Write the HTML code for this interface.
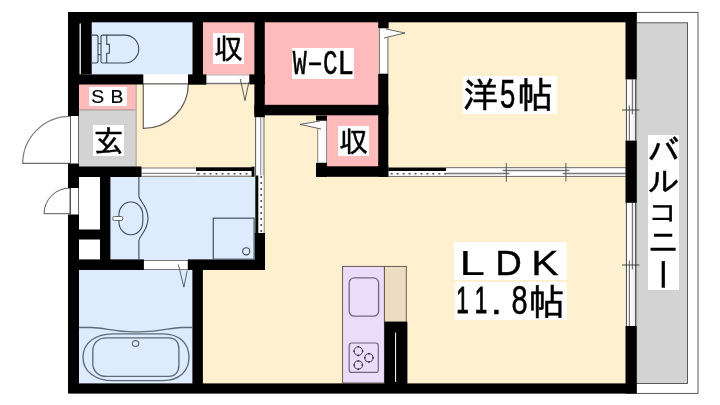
<!DOCTYPE html>
<html lang="ja"><head><meta charset="utf-8"><title>間取り図</title>
<style>
html,body{margin:0;padding:0;background:#fff;}
body{width:720px;height:405px;overflow:hidden;position:relative;font-family:"Liberation Sans","IPAGothic",sans-serif;color:#000;}
svg{position:absolute;left:0;top:0;display:block;}
#plan{position:absolute;left:0;top:0;width:720px;height:405px;will-change:transform;}
.lb{position:absolute;background:#fff;line-height:1;white-space:nowrap;color:#000;}
.fs{font-family:"Liberation Sans","IPAGothic",sans-serif;}
.fm{font-family:"Liberation Mono","IPAGothic",monospace;}
.g{display:inline-block;width:0;vertical-align:top;transform-origin:0 0;}
</style></head><body>
<div id="plan">
<svg width="720" height="405" viewBox="0 0 720 405">
<rect x="79" y="22" width="546.6" height="362" fill="#fff0d0" />
<rect x="91" y="22" width="102" height="53" fill="#ddebfd" />
<rect x="203" y="22" width="52" height="53" fill="#ffbbbc" />
<rect x="265" y="22" width="113.5" height="83.5" fill="#ffbbbc" />
<rect x="327" y="115" width="51.5" height="52" fill="#ffbbbc" />
<rect x="79" y="84" width="56.6" height="25.8" fill="#ffbbbc" />
<rect x="79" y="109.8" width="56.6" height="57.2" fill="#d3d3d3" />
<line x1="136.1" y1="84" x2="136.1" y2="167" stroke="#8a8a8a" stroke-width="0.9"/>
<line x1="79" y1="109.9" x2="135.6" y2="109.9" stroke="#8a7f7f" stroke-width="0.8"/>
<rect x="110" y="177" width="145" height="83" fill="#ddebfd" />
<rect x="79" y="269" width="114" height="115" fill="#ddebfd" />
<rect x="79" y="177" width="21" height="83" fill="#fff" />
<rect x="636.4" y="12.4" width="61.6" height="381.0" fill="#fff" stroke="#4a4a4a" stroke-width="0.9"/>
<rect x="636.6" y="22.8" width="50.9" height="360.7" fill="#d3d3d3" stroke="#4a4a4a" stroke-width="0.9"/>
<rect x="342.6" y="266.4" width="41.8" height="116.6" fill="#ebdcf9" stroke="#5a4e48" stroke-width="0.9"/>
<rect x="384.4" y="266.4" width="21.9" height="55.6" fill="#ecdcc0" stroke="#5a4e48" stroke-width="0.9"/>
<rect x="143.3" y="74.2" width="44.7" height="10.1" fill="#fff" />
<line x1="143.3" y1="83.8" x2="188" y2="83.8" stroke="#777" stroke-width="1"/>
<rect x="206.4" y="74.6" width="42.9" height="9.4" fill="#fff" />
<line x1="206.4" y1="75" x2="249.3" y2="75" stroke="#999" stroke-width="0.8"/>
<line x1="206.4" y1="83.5" x2="249.3" y2="83.5" stroke="#777" stroke-width="1.3"/>
<rect x="379.3" y="28" width="8.6" height="46" fill="#fff" stroke="#666" stroke-width="1"/>
<rect x="317.8" y="120.5" width="8.9" height="42.5" fill="#fff" stroke="#555" stroke-width="0.7"/>
<rect x="143.9" y="260" width="43.9" height="10" fill="#fff" />
<line x1="143.9" y1="260.5" x2="187.8" y2="260.5" stroke="#777" stroke-width="1"/>
<line x1="143.9" y1="269.5" x2="187.8" y2="269.5" stroke="#777" stroke-width="1"/>
<rect x="70" y="116" width="9" height="47.5" fill="#fff" />
<line x1="70.4" y1="116" x2="70.4" y2="163.5" stroke="#333" stroke-width="0.9"/>
<line x1="78.5" y1="116" x2="78.5" y2="163.5" stroke="#555" stroke-width="0.9"/>
<rect x="70" y="188" width="9" height="26.5" fill="#fff" />
<line x1="70.4" y1="188" x2="70.4" y2="214.5" stroke="#333" stroke-width="0.9"/>
<line x1="78.5" y1="188" x2="78.5" y2="214.5" stroke="#555" stroke-width="0.9"/>
<path d="M70,163.3 L22.7,163.3 A47.3,47.3 0 0 1 70,116.4 Z" fill="#fff" stroke="none" stroke-width="0" />
<path d="M22.7,163.3 A47.3,47.3 0 0 1 70,116.4" fill="none" stroke="#808080" stroke-width="1.3" />
<line x1="22.5" y1="163.3" x2="70" y2="163.3" stroke="#333" stroke-width="0.9"/>
<path d="M70,213.7 L44,213.7 A26,26 0 0 1 70,188 Z" fill="#fff" stroke="#444" stroke-width="0.9" />
<path d="M143.3,84 L143.3,128.4 A44.7,44.7 0 0 0 188.3,84 Z" fill="#fff" stroke="#6a635c" stroke-width="1.2" />
<rect x="141.5" y="167.8" width="54.5" height="8.5" fill="#fff" />
<line x1="141.5" y1="168" x2="196" y2="168" stroke="#555" stroke-width="0.8"/>
<line x1="141.5" y1="173.4" x2="196" y2="173.4" stroke="#888" stroke-width="1.2"/>
<line x1="141.5" y1="176.3" x2="196" y2="176.3" stroke="#555" stroke-width="0.8"/>
<rect x="196" y="167.3" width="56" height="9.0" fill="#fff" />
<rect x="196" y="167.3" width="56" height="3.7" fill="#000" />
<line x1="196" y1="176.2" x2="252" y2="176.2" stroke="#333" stroke-width="0.8"/>
<line x1="197.5" y1="173.7" x2="251" y2="173.7" stroke="#555" stroke-width="1.6" stroke-dasharray="2 4"/>
<rect x="251.6" y="166.7" width="2.9" height="10.1" fill="#000" />
<rect x="255.2" y="115.5" width="9.4" height="60.5" fill="#fff" />
<line x1="255.6" y1="115.5" x2="255.6" y2="176" stroke="#444" stroke-width="0.9"/>
<line x1="260.8" y1="115.5" x2="260.8" y2="176" stroke="#8c8c96" stroke-width="1.3"/>
<rect x="261.4" y="115.5" width="2.2" height="60.5" fill="#ececec" />
<line x1="264" y1="115.5" x2="264" y2="176" stroke="#555" stroke-width="0.9"/>
<rect x="255.3" y="175.5" width="9.1" height="57.5" fill="#fff" />
<rect x="255.3" y="175.5" width="3.0" height="57.5" fill="#000" />
<line x1="264.2" y1="175.5" x2="264.2" y2="233" stroke="#555" stroke-width="0.7"/>
<line x1="261.2" y1="176" x2="261.2" y2="232" stroke="#555" stroke-width="1.6" stroke-dasharray="2 4"/>
<rect x="388.3" y="167.5" width="237.2" height="9.1" fill="#fff" />
<rect x="388.3" y="167.5" width="57.7" height="3.5" fill="#000" />
<line x1="390.7" y1="173.7" x2="446.5" y2="173.7" stroke="#555" stroke-width="1.6" stroke-dasharray="2 3.95"/>
<line x1="446" y1="167.7" x2="625.8" y2="167.7" stroke="#444" stroke-width="0.8"/>
<line x1="388.3" y1="176.4" x2="625.8" y2="176.4" stroke="#444" stroke-width="0.8"/>
<line x1="446" y1="173.5" x2="509.4" y2="173.5" stroke="#777" stroke-width="1.3"/>
<line x1="502.8" y1="170.5" x2="569.4" y2="170.5" stroke="#777" stroke-width="1.3"/>
<line x1="562.8" y1="173.5" x2="625.8" y2="173.5" stroke="#777" stroke-width="1.3"/>
<line x1="506.3" y1="163" x2="506.3" y2="181.7" stroke="#333" stroke-width="0.8"/>
<line x1="565.9" y1="163" x2="565.9" y2="181.5" stroke="#333" stroke-width="0.8"/>
<rect x="625.6" y="79.4" width="10.9" height="61.2" fill="#fff" />
<rect x="632.5" y="79.4" width="3.0" height="61.2" fill="#eeeeee" />
<line x1="626.4" y1="79.4" x2="626.4" y2="140.6" stroke="#2a2a2a" stroke-width="0.9"/>
<line x1="635.6" y1="79.4" x2="635.6" y2="140.6" stroke="#333" stroke-width="0.9"/>
<line x1="632.3" y1="79.4" x2="632.3" y2="114.4" stroke="#444" stroke-width="0.9"/>
<line x1="629.4" y1="105.5" x2="629.4" y2="140.6" stroke="#777" stroke-width="1.2"/>
<line x1="622" y1="110" x2="639.4" y2="110" stroke="#333" stroke-width="0.9"/>
<rect x="625.6" y="202.8" width="10.9" height="123.2" fill="#fff" />
<rect x="632.5" y="202.8" width="3.0" height="123.2" fill="#eeeeee" />
<line x1="626.4" y1="202.8" x2="626.4" y2="326" stroke="#2a2a2a" stroke-width="0.9"/>
<line x1="635.6" y1="202.8" x2="635.6" y2="326" stroke="#333" stroke-width="0.9"/>
<line x1="632.3" y1="202.8" x2="632.3" y2="269.4" stroke="#444" stroke-width="0.9"/>
<line x1="629.4" y1="260.5" x2="629.4" y2="326" stroke="#777" stroke-width="1.2"/>
<line x1="622" y1="265" x2="639.4" y2="265" stroke="#333" stroke-width="0.9"/>
<rect x="68.3" y="12" width="568.1" height="10.3" fill="#000" />
<rect x="68.3" y="383.4" width="568.1" height="10.2" fill="#000" />
<rect x="68" y="12" width="23.7" height="62.5" fill="#000" />
<line x1="80.2" y1="23.5" x2="80.2" y2="74" stroke="#fff" stroke-width="1.3"/>
<rect x="68" y="74" width="11" height="42" fill="#000" />
<rect x="68" y="163.5" width="11" height="24.5" fill="#000" />
<rect x="68" y="214.5" width="11" height="178.5" fill="#000" />
<rect x="625.5" y="12" width="10.9" height="67.4" fill="#000" />
<rect x="625.5" y="140.6" width="10.9" height="62.2" fill="#000" />
<rect x="625.5" y="326" width="10.9" height="67.6" fill="#000" />
<rect x="68" y="74.4" width="75.3" height="10.1" fill="#000" />
<rect x="188" y="74.4" width="18.4" height="10.3" fill="#000" />
<rect x="192.5" y="22" width="10.5" height="53" fill="#000" />
<rect x="249.3" y="74.4" width="15.5" height="10.0" fill="#000" />
<rect x="254.4" y="22" width="10.4" height="95.2" fill="#000" />
<rect x="254.4" y="104.8" width="133.9" height="10.5" fill="#000" />
<rect x="378.2" y="22" width="10.4" height="6" fill="#000" />
<rect x="378.2" y="74" width="10.1" height="102.8" fill="#000" />
<rect x="316" y="115.5" width="11" height="5.0" fill="#000" />
<rect x="316" y="163" width="11" height="13.8" fill="#000" />
<rect x="316" y="166.3" width="72.3" height="10.5" fill="#000" />
<rect x="68" y="166.5" width="73.5" height="10.5" fill="#000" />
<rect x="100" y="177" width="10.4" height="83" fill="#000" />
<rect x="79" y="229.5" width="21" height="10.0" fill="#000" />
<rect x="68" y="259.4" width="75.9" height="10.6" fill="#000" />
<rect x="187.8" y="259.4" width="77.2" height="10.6" fill="#000" />
<rect x="254.6" y="233" width="10.4" height="37" fill="#000" />
<rect x="192.4" y="269.5" width="10.5" height="114.5" fill="#000" />
<rect x="384.4" y="321.8" width="23.0" height="62.2" fill="#000" />
<line x1="395.6" y1="332.5" x2="395.6" y2="382" stroke="#fff" stroke-width="1.0"/>
<path d="M91.7,34.3 H96.5 Q98,34.3 98,35.8 V60.7 Q98,62.2 96.5,62.2 H91.7" fill="none" stroke="#3d4955" stroke-width="1.1" transform="translate(0,0.8)"/>
<path d="M98,42.9 H101 M98,54 H101" fill="none" stroke="#3d4955" stroke-width="1.1" transform="translate(0,0.8)"/>
<path d="M102.5,34.3 H124.8 A13.95,13.95 0 0 1 124.8,62.2 H102.5 Q101,62.2 101,60.7 V35.8 Q101,34.3 102.5,34.3 Z" fill="none" stroke="#3d4955" stroke-width="1.1" transform="translate(0,0.8)"/>
<path d="M106.7,34.3 V43.6 H109.4 V52.4 H106.7 V62.2" fill="none" stroke="#3d4955" stroke-width="1.1" transform="translate(0,0.8)"/>
<path d="M138.9,177 V196.3 C139.3,201 148,206 148,218.3 C148,230.6 139.3,236 138.9,240.3 V259.5" fill="none" stroke="#3d4955" stroke-width="1.1" />
<rect x="118.9" y="202" width="23.9" height="32.7" rx="11.5" ry="13" fill="none" stroke="#3d4955" stroke-width="1.1"/>
<rect x="112.8" y="216.5" width="10" height="4" rx="1.6" fill="#fff" stroke="#3d4955" stroke-width="0.8"/>
<rect x="213.3" y="218.2" width="40.8" height="41" fill="none" stroke="#505d69" stroke-width="1.3"/>
<circle cx="246.2" cy="251.3" r="3.6" fill="none" stroke="#3d4955" stroke-width="1.1"/>
<path d="M79,327.5 H91 C104,327.5 114,331.8 134,331.8 H140 C162,331.8 170,327.5 182,327.5 H192.5" fill="none" stroke="#5f6b76" stroke-width="1.35" />
<path d="M113,333.8 H163 C179,333.8 189,343 189,357.2 C189,371.5 179,380.6 163,380.6 H113 C96,380.6 83,372 83,357.2 C83,342.4 96,333.8 113,333.8 Z" fill="none" stroke="#5f6b76" stroke-width="1.35" />
<path d="M106.7,337.8 H169 C175,337.8 178.9,342 178.9,349 V365.5 C178.9,372 175,376.4 169,376.4 H106.7 C98,376.4 92.8,371 92.8,363 V351 C92.8,343 98,337.8 106.7,337.8 Z" fill="none" stroke="#5f6b76" stroke-width="1.35" />
<ellipse cx="135.6" cy="343.6" rx="3.2" ry="2.9" fill="none" stroke="#5f6b76" stroke-width="1.2"/>
<rect x="349.2" y="277.9" width="29.4" height="38.3" rx="5" fill="none" stroke="#75667f" stroke-width="1.3"/>
<rect x="349.2" y="343" width="29.1" height="29.4" rx="2.5" fill="none" stroke="#75667f" stroke-width="1.2"/>
<circle cx="358.3" cy="351.1" r="4.3" fill="none" stroke="#4a3f55" stroke-width="1"/>
<circle cx="358.3" cy="346.8" r="0.9" fill="#3a3045"/>
<circle cx="362.6" cy="351.1" r="0.9" fill="#3a3045"/>
<circle cx="358.3" cy="355.40000000000003" r="0.9" fill="#3a3045"/>
<circle cx="354.0" cy="351.1" r="0.9" fill="#3a3045"/>
<circle cx="368.9" cy="357.8" r="4.1" fill="none" stroke="#4a3f55" stroke-width="1"/>
<circle cx="368.9" cy="353.7" r="0.9" fill="#3a3045"/>
<circle cx="373.0" cy="357.8" r="0.9" fill="#3a3045"/>
<circle cx="368.9" cy="361.90000000000003" r="0.9" fill="#3a3045"/>
<circle cx="364.79999999999995" cy="357.8" r="0.9" fill="#3a3045"/>
<circle cx="358.3" cy="365" r="4.1" fill="none" stroke="#4a3f55" stroke-width="1"/>
<circle cx="358.3" cy="360.9" r="0.9" fill="#3a3045"/>
<circle cx="362.40000000000003" cy="365.0" r="0.9" fill="#3a3045"/>
<circle cx="358.3" cy="369.1" r="0.9" fill="#3a3045"/>
<circle cx="354.2" cy="365.0" r="0.9" fill="#3a3045"/>
<path d="M240.3,79 L245,100.6 L248.9,82" fill="none" stroke="#4a4a4a" stroke-width="0.9" />
<path d="M178.3,264.4 L183.9,287.2 L187.2,270.5" fill="none" stroke="#4a5560" stroke-width="0.9" />
<path d="M386,29 L405,33 L384,38" fill="#fff" stroke="#555" stroke-width="0.9" />
<path d="M320,121 L300,124.4 L321,129" fill="#fff" stroke="#555" stroke-width="0.9" />
</svg>
<div class="lb fs" style="left:213.1px;top:33px;width:31.3px;height:31.1px;font-size:31px"><span class="g" style="-webkit-text-stroke:0.45px #000;transform:translate(0.96px,1.66px) scale(0.938,0.944)">収</span></div>
<div class="lb fs" style="left:337.8px;top:125.6px;width:31.1px;height:30.7px;font-size:31px"><span class="g" style="-webkit-text-stroke:0.45px #000;transform:translate(1.06px,1.26px) scale(0.945,0.944)">収</span></div>
<div class="lb fs" style="left:93.1px;top:125px;width:31.3px;height:31.1px;font-size:31px"><span class="g" style="-webkit-text-stroke:0.45px #000;transform:translate(0.76px,2.2px) scale(0.97,0.964)">玄</span></div>
<div class="lb fs" style="left:88.6px;top:86.6px;width:38.3px;height:19.2px;font-size:17px"><span class="g" style="-webkit-text-stroke:0.15px #000;transform:translate(2.16px,1.75px) scale(1.14,1.025)">S</span><span class="g" style="-webkit-text-stroke:0.15px #000;transform:translate(21.56px,1.75px) scale(1.14,1.025)">B</span></div>
<div class="lb fm" style="left:292.2px;top:48px;width:61.9px;height:31.1px;font-size:31px"><span class="g" style="-webkit-text-stroke:0.5px #000;transform:translate(0.8px,-0.77px) scale(0.747,1.124)">W</span><span class="g" style="-webkit-text-stroke:0.5px #000;transform:translate(10.42px,1.4px) scale(1.35,0.9)">-</span><span class="g" style="-webkit-text-stroke:0.5px #000;transform:translate(31.12px,-1.16px) scale(0.782,1.152)">C</span><span class="g" style="-webkit-text-stroke:0.5px #000;transform:translate(45.46px,-0.77px) scale(0.879,1.124)">L</span></div>
<div class="lb fs" style="left:463.3px;top:76.4px;width:93.4px;height:37.6px;font-size:37.4px"><span class="g" style="-webkit-text-stroke:0.5px #000;transform:translate(-0.19px,2.5px) scale(0.947,0.956)">洋</span><span class="g" style="-webkit-text-stroke:0.5px #000;transform:translate(36.96px,-1.52px) scale(0.737,1.085)">5</span><span class="g" style="-webkit-text-stroke:0.5px #000;transform:translate(54.31px,2.3px) scale(0.962,0.971)">帖</span></div>
<div class="lb fs" style="left:454.4px;top:242.4px;width:112.3px;height:37.8px;font-size:36px"><span class="g" style="-webkit-text-stroke:0.15px #000;transform:translate(5.39px,3.72px) scale(1.269,0.969)">L</span><span class="g" style="-webkit-text-stroke:0.5px #000;transform:translate(41.47px,3.72px) scale(1.009,0.969)">D</span><span class="g" style="-webkit-text-stroke:0.35px #000;transform:translate(77.19px,3.72px) scale(1.138,0.969)">K</span></div>
<div class="lb fs" style="left:455.3px;top:281.9px;width:111.9px;height:37.8px;font-size:37.4px"><span class="g" style="-webkit-text-stroke:1.0px #000;transform:translate(1.15px,0.43px) scale(0.6,0.993)">1</span><span class="g" style="-webkit-text-stroke:1.0px #000;transform:translate(19.65px,0.43px) scale(0.6,0.993)">1</span><span class="g" style="-webkit-text-stroke:0.5px #000;transform:translate(35.87px,1.97px) scale(1.075,0.975)">.</span><span class="g" style="-webkit-text-stroke:0.5px #000;transform:translate(56.43px,-0.98px) scale(0.774,1.077)">8</span><span class="g" style="-webkit-text-stroke:0.5px #000;transform:translate(73.48px,2.5px) scale(0.972,0.971)">帖</span></div>
<div class="lb fs" style="left:647.5px;top:135px;width:31.4px;height:154.5px;font-size:31px"><span class="g" style="-webkit-text-stroke:0.45px #000;transform:translate(-0.57px,0.65px) scale(1.036,1.055)">バ</span><span class="g" style="-webkit-text-stroke:0.45px #000;transform:translate(-0.59px,32.51px) scale(1.044,0.93)">ル</span><span class="g" style="-webkit-text-stroke:0.45px #000;transform:translate(0.37px,65.63px) scale(0.957,0.814)">コ</span><span class="g" style="-webkit-text-stroke:0.45px #000;transform:translate(-0.19px,92.05px) scale(0.996,1.05)">ニ</span><span class="g" style="-webkit-text-stroke:0.45px #000;transform:translate(31.33px,123.33px) scale(1.133,1.035) rotate(90deg)">ー</span></div>
</div>
</body></html>
